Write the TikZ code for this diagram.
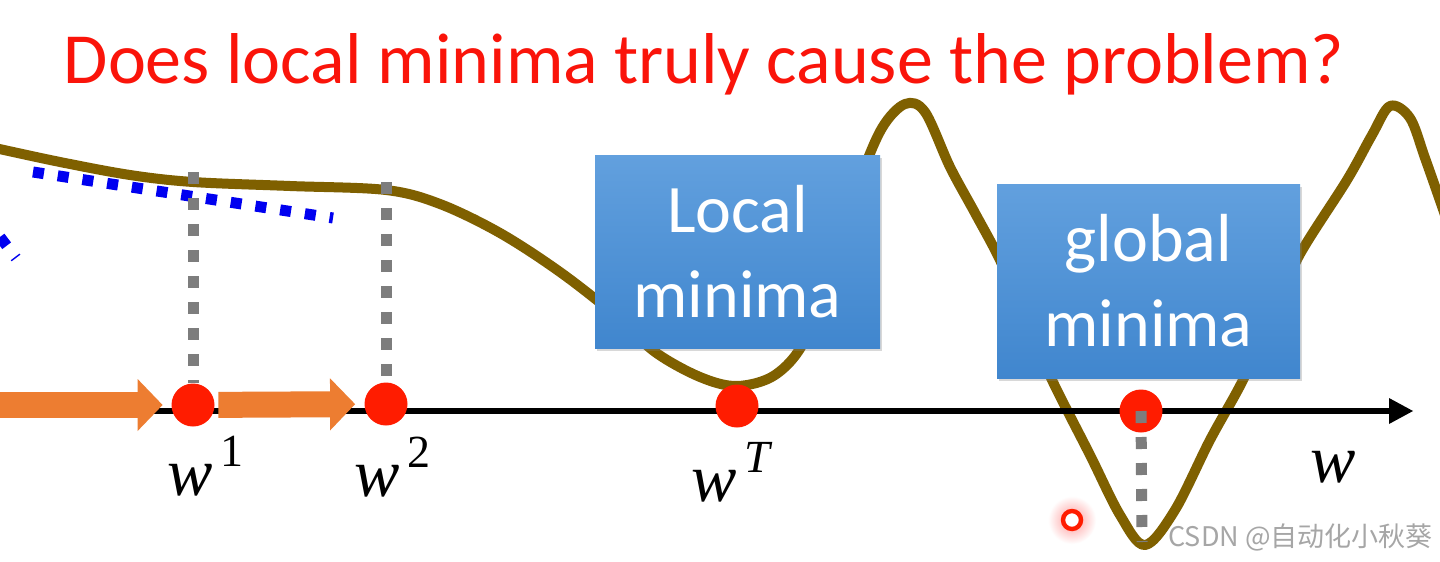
\documentclass[tikz,border=0pt]{standalone}
\usepackage{fontspec}
\setmainfont{Carlito}
\newfontfamily\cjkfont{Noto Sans CJK SC}
\newfontfamily\varfont{Liberation Serif}
\usetikzlibrary{arrows.meta,positioning,shadows}

\definecolor{curvebrown}{RGB}{127,96,0}
\definecolor{dotred}{RGB}{255,28,0}
\definecolor{steporange}{RGB}{237,125,49}
\definecolor{boxtop}{RGB}{98,160,222}
\definecolor{boxbot}{RGB}{64,134,206}
\definecolor{guidegray}{RGB}{125,125,125}
\definecolor{tanblue}{RGB}{0,0,240}
\definecolor{titlered}{RGB}{250,20,10}

\newcommand{\wsup}[1]{\textit{w}\kern4pt\raisebox{0.42em}{\fontsize{23}{27}\selectfont #1}}

\tikzset{
  losscurve/.style={line width=5pt, color=curvebrown, line join=round, line cap=round},
  axisline/.style={line width=3pt, -{Triangle[length=12pt, width=13pt, line width=0pt]}},
  movearrow/.style={line width=13pt, color=steporange, -{Triangle[length=12.5pt, width=26pt, line width=0pt]}},
  dot/.style={circle, fill=dotred, minimum size=21.5pt, inner sep=0pt},
  guide/.style={line width=5.5pt, color=guidegray, dash pattern=on 6pt off 7pt},
  tangent/.style={line width=5.5pt, color=tanblue, dash pattern=on 5.5pt off 7pt},
  minbox/.style={rectangle, top color=boxtop, bottom color=boxbot, text=white,
    align=center, font=\fontsize{34}{42.5}\selectfont,
    drop shadow={shadow xshift=1pt, shadow yshift=-1.5pt, opacity=0.3}},
  wlabel/.style={anchor=base west, inner sep=0pt, font=\varfont\fontsize{34}{40}\selectfont}
}

\begin{document}
\begin{tikzpicture}[x=0.5pt, y=-0.5pt]
\useasboundingbox[fill=white] (0,0) rectangle (1440,562);

% title
\node[anchor=base, text=titlered, font=\fontsize{36}{43}\selectfont] (title) at (704,83) {Does local minima truly cause the problem?};

% loss curve
\draw[losscurve] plot[smooth, tension=0.55] coordinates {
  (-5,148) (60,162) (130,175) (193,182) (290,186) (386,190) (440,204)
  (500,233) (560,272) (615,315) (655,352) (700,377) (737,386) (775,375)
  (805,340) (835,260) (860,180) (882,128) (905,104) (925,112) (950,167)
  (975,213) (1000,260) (1025,318) (1052,380) (1090,455) (1120,515)
  (1145,545) (1175,510) (1210,440) (1243,380) (1275,310) (1300,254)
  (1347,180) (1372,135) (1390,106) (1410,118) (1425,158) (1445,215)};

% tangent
\draw[tangent] (33,172) -- (333,218);
\draw[tangent] (0,237) -- (16,258);

% axis
\coordinate (axstart) at (0,411);
\coordinate (axend) at (1413,411);
\draw[axisline] (axstart) -- (axend);

% points on w
\node[dot] (w1) at (193,405) {};
\node[dot] (w2) at (386,404) {};
\node[dot] (wT) at (737,406) {};
\node[dot] (wg) at (1141,411) {};

% steps
\coordinate (w0) at (0,405);
\draw[movearrow, shorten >=4.25pt] (w0) -- (w1);
\draw[movearrow, shorten <=1.75pt, shorten >=4.5pt] (w1) -- (w2);

% guides
\coordinate (g1) at (193,172);
\coordinate (g2) at (386,182);
\coordinate (gb) at (1142,542);
\draw[guide] (g1) -- (w1.north);
\draw[guide] (g2) -- (w2.north);
\draw[guide] (wg.center) -- (gb);

% boxes
\node[minbox, minimum width=142.5pt, minimum height=96.5pt] (localbox) at (737.5,251.5) {Local\\minima};
\node[minbox, minimum width=151.5pt, minimum height=97pt] (globalbox) at (1148.5,281) {global\\minima};

% labels
\node[wlabel] (l1) at (167,495) {\wsup{1}};
\node[wlabel] (l2) at (354,496) {\wsup{2}};
\node[wlabel] (lT) at (691,501) {\wsup{\textit{T}}};
\node[wlabel] (lw) at (1310,482) {\textit{w}};

% pointer
\shade[inner color=red!40, outer color=white] (1072,520) circle (12pt);
\draw[dotred, line width=2.2pt, fill=white] (1072,520) circle (4.5pt);

% watermark
\node[anchor=base west, inner sep=0pt, text=black!35, font=\cjkfont\fontsize{13.5}{16}\selectfont] (mark) at (1168,546) {CSDN @自动化小秋葵};
\end{tikzpicture}
\end{document}
